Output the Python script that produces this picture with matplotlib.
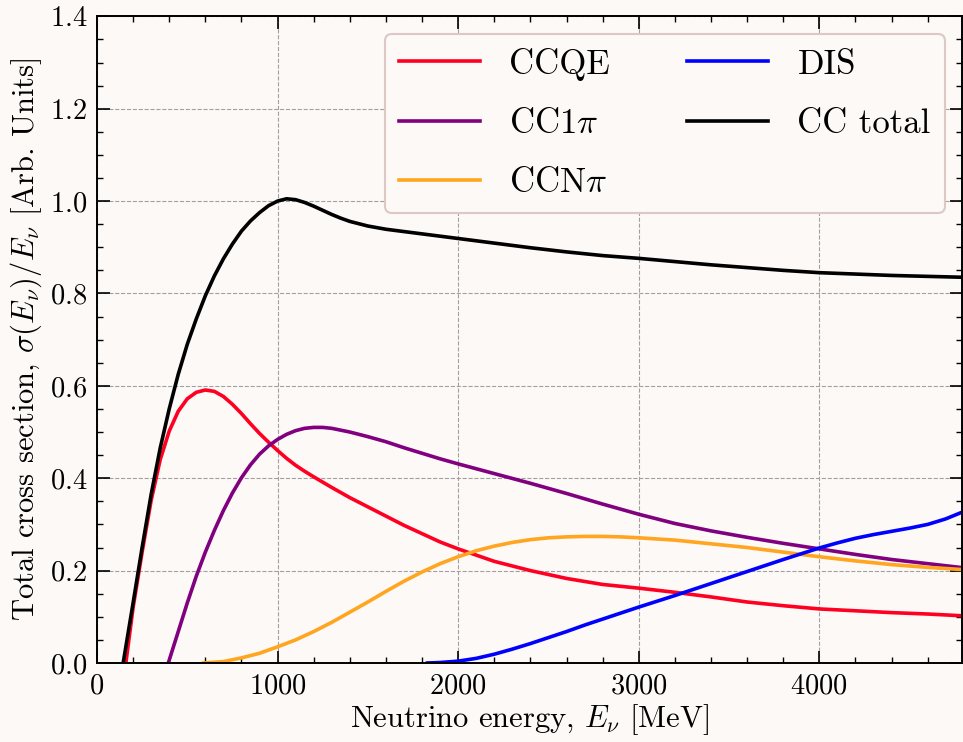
"""Neutrino CC cross sections by channel, divided by E_nu."""

import matplotlib
matplotlib.use("Agg")
import matplotlib.pyplot as plt
from matplotlib.ticker import MultipleLocator

BG = "#fdf9f7"

total_e = [145, 200, 250, 300, 350, 400, 450, 500, 550, 600, 650, 700, 750, 800,
           850, 900, 950, 1000, 1050, 1100, 1150, 1200, 1250, 1300, 1350, 1400,
           1500, 1600, 1700, 1800, 1900, 2000, 2200, 2400, 2600, 2800, 3000,
           3200, 3400, 3600, 3800, 4000, 4200, 4400, 4600, 4800]
total_y = [0.0, 0.13, 0.25, 0.365, 0.465, 0.55, 0.625, 0.69, 0.745, 0.795,
           0.838, 0.875, 0.907, 0.935, 0.957, 0.975, 0.99, 1.0, 1.005, 1.003,
           0.997, 0.989, 0.98, 0.971, 0.963, 0.956, 0.946, 0.939, 0.934, 0.929,
           0.924, 0.919, 0.909, 0.899, 0.89, 0.882, 0.876, 0.869, 0.862, 0.856,
           0.85, 0.845, 0.842, 0.839, 0.837, 0.835]

ccqe_e = [160, 200, 250, 300, 350, 400, 450, 500, 550, 600, 650, 700, 750, 800,
          850, 900, 950, 1000, 1050, 1100, 1150, 1200, 1300, 1400, 1500, 1600,
          1700, 1800, 1900, 2000, 2200, 2400, 2600, 2800, 3000, 3200, 3400,
          3600, 3800, 4000, 4200, 4400, 4600, 4800]
ccqe_y = [0.0, 0.12, 0.24, 0.352, 0.44, 0.502, 0.545, 0.572, 0.586, 0.591,
          0.588, 0.577, 0.56, 0.54, 0.518, 0.497, 0.478, 0.46, 0.443, 0.428,
          0.415, 0.403, 0.38, 0.358, 0.338, 0.318, 0.298, 0.28, 0.262, 0.247,
          0.22, 0.2, 0.183, 0.17, 0.162, 0.153, 0.143, 0.132, 0.124, 0.117,
          0.113, 0.109, 0.106, 0.102]

cc1pi_e = [395, 450, 500, 550, 600, 650, 700, 750, 800, 850, 900, 950, 1000,
           1050, 1100, 1150, 1200, 1250, 1300, 1400, 1500, 1600, 1700, 1800,
           1900, 2000, 2200, 2400, 2600, 2800, 3000, 3200, 3400, 3600, 3800,
           4000, 4200, 4400, 4600, 4800]
cc1pi_y = [0.0, 0.068, 0.13, 0.188, 0.24, 0.287, 0.33, 0.368, 0.401, 0.429,
           0.452, 0.47, 0.484, 0.495, 0.503, 0.508, 0.51, 0.51, 0.508, 0.5,
           0.49, 0.479, 0.466, 0.454, 0.442, 0.431, 0.41, 0.389, 0.367, 0.344,
           0.322, 0.302, 0.286, 0.272, 0.259, 0.247, 0.235, 0.224, 0.215, 0.206]

ccnpi_e = [590, 700, 800, 900, 1000, 1100, 1200, 1300, 1400, 1500, 1600, 1700,
           1800, 1900, 2000, 2100, 2200, 2300, 2400, 2500, 2600, 2700, 2800,
           2900, 3000, 3200, 3400, 3600, 3800, 4000, 4200, 4400, 4600, 4800]
ccnpi_y = [0.0, 0.003, 0.011, 0.021, 0.035, 0.05, 0.068, 0.088, 0.11, 0.132,
           0.155, 0.177, 0.197, 0.215, 0.23, 0.243, 0.253, 0.261, 0.267, 0.271,
           0.273, 0.274, 0.274, 0.273, 0.271, 0.266, 0.258, 0.25, 0.24, 0.23,
           0.221, 0.213, 0.207, 0.202]

dis_e = [1830, 1900, 2000, 2100, 2200, 2300, 2400, 2500, 2600, 2700, 2800,
         2900, 3000, 3200, 3400, 3600, 3800, 4000, 4100, 4200, 4300, 4400,
         4500, 4600, 4700, 4800]
dis_y = [0.0, 0.001, 0.004, 0.01, 0.019, 0.03, 0.042, 0.055, 0.068, 0.082,
         0.095, 0.108, 0.121, 0.146, 0.172, 0.198, 0.224, 0.249, 0.26, 0.27,
         0.278, 0.285, 0.292, 0.3, 0.312, 0.328]

plt.rcParams.update({
    "font.family": "serif",
    "font.serif": ["cmr10"],
    "mathtext.fontset": "cm",
    "axes.unicode_minus": False,
    "axes.formatter.use_mathtext": True,
    "font.size": 20.5,
})

fig = plt.figure(figsize=(9.63, 7.42), dpi=100, facecolor=BG)
ax = fig.add_axes([0.1007, 0.1065, 0.8983, 0.8715], facecolor=BG)

ax.plot(ccqe_e, ccqe_y, color="#ff0022", lw=2.6, label="CCQE")
ax.plot(cc1pi_e, cc1pi_y, color="#800080", lw=2.6, label=r"CC1$\pi$")
ax.plot(ccnpi_e, ccnpi_y, color="#ffa520", lw=2.6, label=r"CCN$\pi$")
ax.plot(dis_e, dis_y, color="#0000ff", lw=2.6, label="DIS")
ax.plot(total_e, total_y, color="black", lw=2.6, label="CC total")

ax.set_xlim(0, 4790)
ax.set_ylim(0, 1.4)
ax.xaxis.set_major_locator(MultipleLocator(1000))
ax.xaxis.set_minor_locator(MultipleLocator(200))
ax.yaxis.set_major_locator(MultipleLocator(0.2))
ax.yaxis.set_minor_locator(MultipleLocator(0.05))
ax.tick_params(which="both", direction="in", top=True, right=True)
ax.tick_params(which="major", length=9, width=1.2, pad=7)
ax.tick_params(which="minor", length=4.5, width=1.0)
for s in ax.spines.values():
    s.set_linewidth(1.4)
ax.grid(which="major", ls="--", color="#a0a0a0", lw=0.8)

ax.set_xlabel(r"Neutrino energy, $E_\nu$ [MeV]", fontsize=22, labelpad=2)
ax.set_ylabel(r"Total cross section, $\sigma(E_\nu)/E_\nu$ [Arb. Units]",
              fontsize=22, labelpad=4)

leg = ax.legend(ncol=2, loc="upper right", fontsize=25, handlelength=2.33,
                handletextpad=0.86, columnspacing=2.2, labelspacing=0.8,
                fancybox=True, framealpha=1.0, borderpad=0.4,
                borderaxespad=0.5)
leg.get_frame().set_facecolor(BG)
leg.get_frame().set_edgecolor("#dcc8c4")
leg.get_frame().set_linewidth(1.5)

fig.savefig("out.png", dpi=100, facecolor=BG)
